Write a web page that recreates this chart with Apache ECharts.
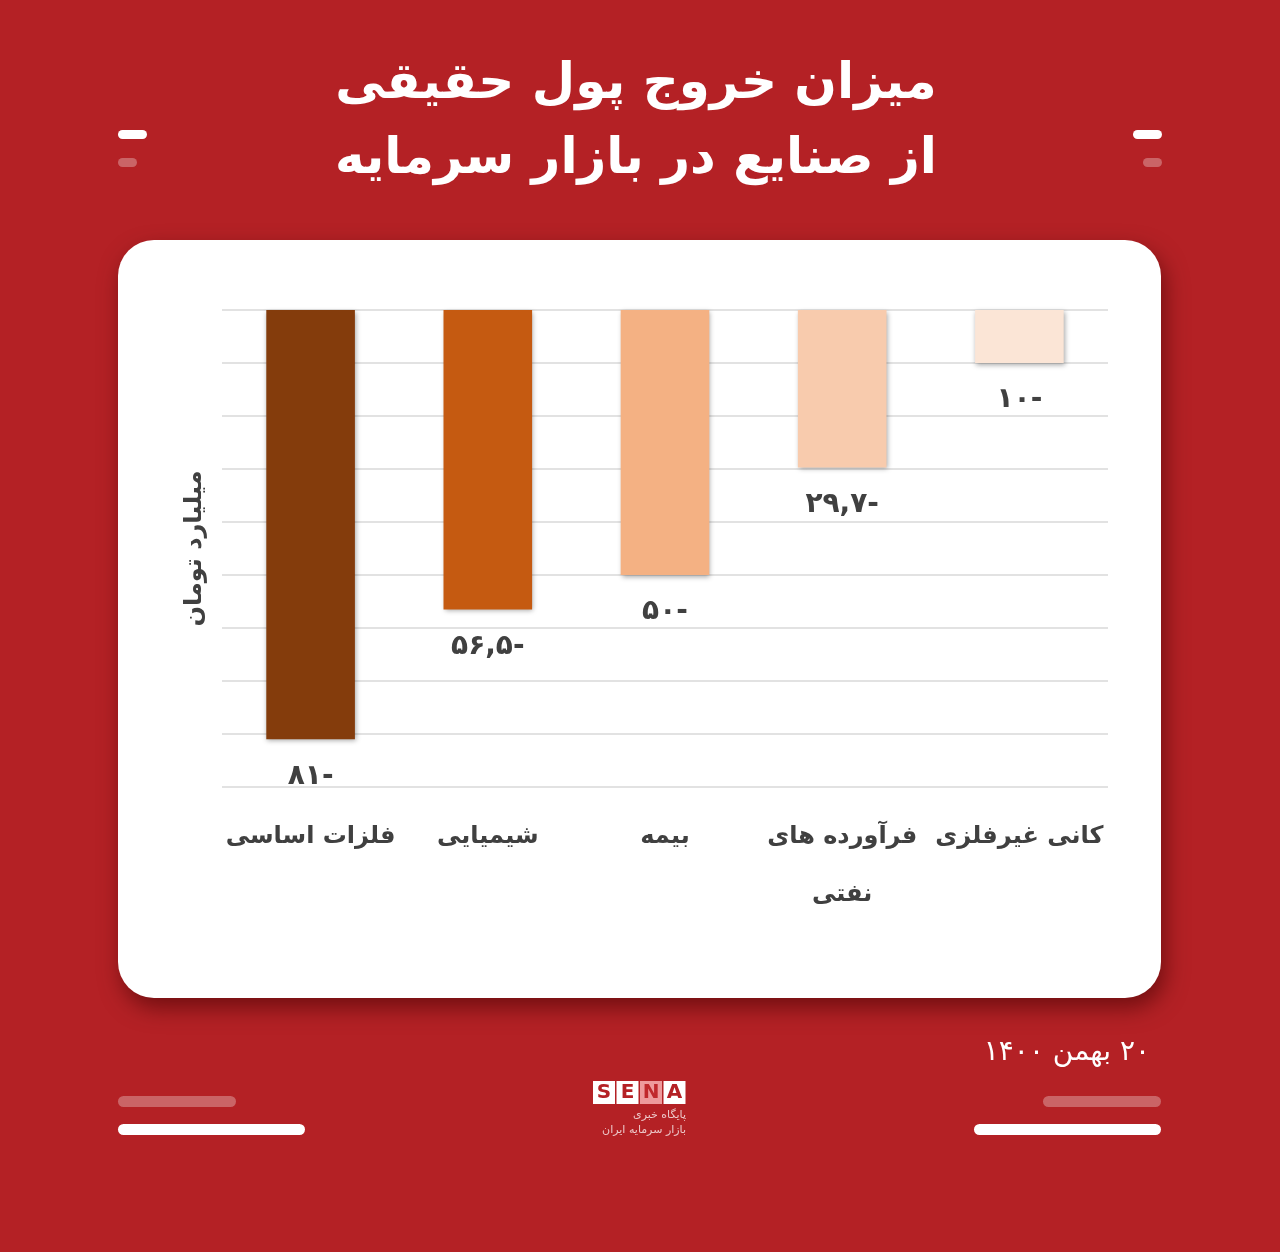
<!DOCTYPE html>
<html>
<head>
<meta charset="utf-8">
<script src="https://cdn.jsdelivr.net/npm/echarts@6/dist/echarts.min.js"></script>
<style>
html,body{margin:0;padding:0;background:#b42125;}
#c{width:1280px;height:1252px;}
</style>
</head>
<body>
<div id="c"></div>
<script>
const titleLines = ['میزان خروج پول حقیقی', 'از صنایع در بازار سرمایه'];
const categories = ['فلزات اساسی', 'شیمیایی', 'بیمه', 'فرآورده های\nنفتی', 'کانی غیرفلزی'];
const values = [-81, -56.5, -50, -29.7, -10];
const barColors = ['#843c0c', '#c55a11', '#f4b183', '#f8cbad', '#fbe5d6'];
const yTicks = { min: -90, max: 0, interval: 10 };
const axisName = 'میلیارد تومان';
const dateText = '\u200F۲۰ بهمن ۱۴۰۰';
const logoLetters = ['S', 'E', 'N', 'A'];
const logoLines = ['پایگاه خبری', 'بازار سرمایه ایران'];

const faDigits = '۰۱۲۳۴۵۶۷۸۹';
function toFa(v) {
  return String(Math.abs(v)).replace('.', ',').replace(/[0-9]/g, d => faDigits[+d]) + '-';
}

const FONT = '"DejaVu Sans", "Noto Sans", sans-serif';
const chart = echarts.init(document.getElementById('c'));

const graphics = [
  // card
  { type: 'rect', z: -5, shape: { x: 118, y: 240, width: 1043, height: 758, r: 36 },
    style: { fill: '#ffffff', shadowBlur: 22, shadowOffsetX: 4, shadowOffsetY: 10, shadowColor: 'rgba(60,0,0,0.55)' } },
  // title
  { type: 'text', x: 636, y: 85, style: { text: titleLines[0], fill: '#fff', font: 'bold 50px ' + FONT, textAlign: 'center', textVerticalAlign: 'middle' } },
  { type: 'text', x: 636, y: 160, style: { text: titleLines[1], fill: '#fff', font: 'bold 50px ' + FONT, textAlign: 'center', textVerticalAlign: 'middle' } },
  // pills top
  { type: 'rect', shape: { x: 118, y: 130, width: 29, height: 9, r: 4.5 }, style: { fill: '#ffffff' } },
  { type: 'rect', shape: { x: 118, y: 158, width: 19, height: 9, r: 4.5 }, style: { fill: 'rgba(255,255,255,0.3)' } },
  { type: 'rect', shape: { x: 1133, y: 130, width: 29, height: 9, r: 4.5 }, style: { fill: '#ffffff' } },
  { type: 'rect', shape: { x: 1143, y: 158, width: 19, height: 9, r: 4.5 }, style: { fill: 'rgba(255,255,255,0.3)' } },
  // pills bottom
  { type: 'rect', shape: { x: 118, y: 1096, width: 118, height: 11, r: 5.5 }, style: { fill: 'rgba(255,255,255,0.3)' } },
  { type: 'rect', shape: { x: 118, y: 1124, width: 187, height: 11, r: 5.5 }, style: { fill: '#ffffff' } },
  { type: 'rect', shape: { x: 1043, y: 1096, width: 118, height: 11, r: 5.5 }, style: { fill: 'rgba(255,255,255,0.3)' } },
  { type: 'rect', shape: { x: 974, y: 1124, width: 187, height: 11, r: 5.5 }, style: { fill: '#ffffff' } },
  // date
  { type: 'text', x: 1150, y: 1053, style: { text: dateText, fill: '#fff', font: '28px ' + FONT, textAlign: 'right', textVerticalAlign: 'middle' } },
  // logo lines
  { type: 'text', x: 686, y: 1115, style: { text: logoLines[0], fill: 'rgba(255,255,255,0.75)', font: '11px ' + FONT, textAlign: 'right', textVerticalAlign: 'middle' } },
  { type: 'text', x: 686, y: 1130, style: { text: logoLines[1], fill: 'rgba(255,255,255,0.75)', font: '11px ' + FONT, textAlign: 'right', textVerticalAlign: 'middle' } }
];
logoLetters.forEach((ch, i) => {
  const x = 593 + i * 23.5;
  const isN = ch === 'N';
  graphics.push({ type: 'rect', shape: { x: x, y: 1081, width: 22, height: 23 }, style: { fill: isN ? '#ee9a9c' : '#ffffff' } });
  graphics.push({ type: 'text', x: x + 11, y: 1093, style: { text: ch, fill: isN ? '#c0282c' : '#b42125', font: 'bold 20px ' + FONT, textAlign: 'center', textVerticalAlign: 'middle' } });
});

chart.setOption({
  backgroundColor: 'transparent',
  animation: false,
  graphic: graphics,
  grid: { left: 222, right: 172, top: 310, bottom: 465 },
  xAxis: {
    type: 'category',
    data: categories,
    position: 'bottom',
    axisLine: { show: false, onZero: false },
    axisTick: { show: false },
    axisLabel: { color: '#404040', fontFamily: FONT, fontSize: 24, fontWeight: 'bold', margin: 21, lineHeight: 58, interval: 0 }
  },
  yAxis: {
    type: 'value',
    min: yTicks.min, max: yTicks.max, interval: yTicks.interval,
    name: axisName,
    nameLocation: 'middle',
    nameRotate: 90,
    nameGap: 15,
    nameTextStyle: { color: '#404040', fontFamily: FONT, fontSize: 24, fontWeight: 'bold' },
    axisLabel: { show: false },
    axisLine: { show: false },
    axisTick: { show: false },
    splitLine: { lineStyle: { color: '#d9d9d9', width: 1.5 } }
  },
  series: [{
    type: 'bar',
    barWidth: '50%',
    data: values.map((v, i) => ({ value: v, itemStyle: { color: barColors[i] } })),
    itemStyle: { shadowBlur: 5, shadowOffsetX: 1, shadowOffsetY: 2, shadowColor: 'rgba(0,0,0,0.35)' },
    label: {
      show: true, position: 'bottom', distance: 23,
      color: '#404040', fontFamily: FONT, fontSize: 28, fontWeight: 'bold',
      formatter: p => toFa(p.value)
    }
  }]
});
</script>
</body>
</html>
